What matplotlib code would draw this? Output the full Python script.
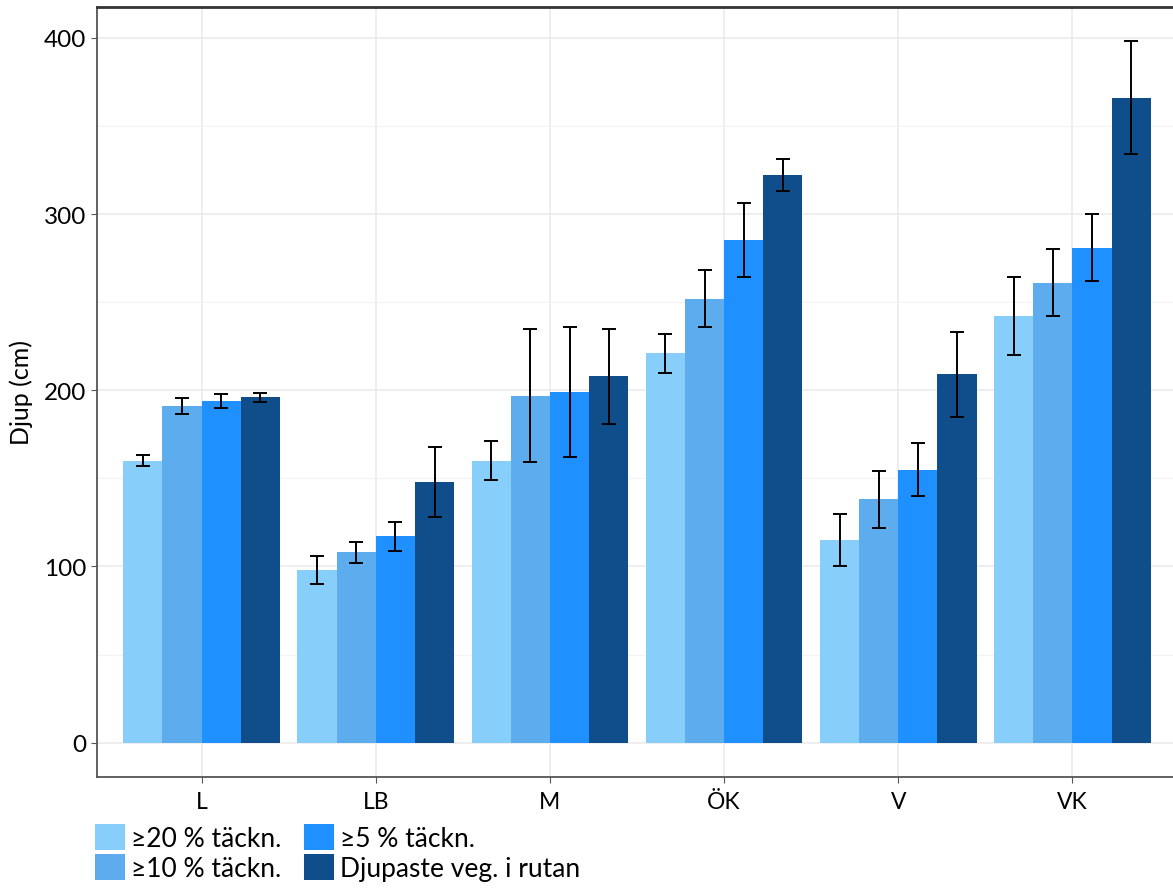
import numpy as np
import matplotlib.pyplot as plt
from matplotlib.ticker import MultipleLocator

plt.rcParams['font.family'] = ['Lato', 'DejaVu Sans']

lokaler = ["L", "LB", "M", "ÖK", "V", "VK"]
serier = ["≥20 % täckn.", "≥10 % täckn.", "≥5 % täckn.", "Djupaste veg. i rutan"]
farger = ["#87CEFA", "#5CACEE", "#1E90FF", "#104E8B"]

# medeldjup per lokal (rader = serier)
djup = [
    [160, 98, 160, 221, 115, 242],
    [191, 108, 197, 252, 138, 261],
    [194, 117, 199, 285, 155, 281],
    [196, 148, 208, 322, 209, 366],
]
# felstaplar (+/-)
fel = [
    [3, 8, 11, 11, 15, 22],
    [4.5, 6, 38, 16, 16, 19],
    [4, 8, 37, 21, 15, 19],
    [2.5, 20, 27, 9, 24, 32],
]

fig = plt.figure(figsize=(11.73, 8.95), dpi=100)
ax = fig.add_axes([97/1173, 117/895, 1080/1173, 770/895])

x = np.arange(1, len(lokaler) + 1)
w = 0.9 / len(serier)
for i in range(len(serier)):
    pos = x - 0.45 + w * (i + 0.5)
    ax.bar(pos, djup[i], width=w, color=farger[i], label=serier[i], zorder=2)
    ax.errorbar(pos, djup[i], yerr=fel[i], fmt='none', ecolor='black',
                elinewidth=1.4, capsize=5, capthick=1.4, zorder=3)

ax.set_xlim(0.4, 6.6)
ax.set_ylim(-19.5, 417.5)
ax.set_xticks(x)
ax.set_xticklabels(lokaler, fontsize=16.5)
ax.yaxis.set_major_locator(MultipleLocator(100))
ax.yaxis.set_minor_locator(MultipleLocator(50))
ax.tick_params(axis='y', labelsize=17.5, length=4, color='#555555')
ax.tick_params(axis='x', length=4, color='#555555', pad=6)
ax.tick_params(axis='y', which='minor', length=0)
ax.grid(which='major', color='#EBEBEB', lw=1.2, zorder=0)
ax.grid(which='minor', axis='y', color='#F2F2F2', lw=0.8, zorder=0)
ax.set_axisbelow(True)
ax.set_ylabel("Djup (cm)", fontsize=18, labelpad=8)

for s in ['left', 'bottom']:
    ax.spines[s].set_color('#555555')
    ax.spines[s].set_linewidth(1.3)
ax.spines['top'].set_color('#333333')
ax.spines['top'].set_linewidth(2)
ax.spines['right'].set_visible(False)

fig.legend(loc='upper left', bbox_to_anchor=(95/1173, 1 - 825/895), ncol=2,
           frameon=False, fontsize=19, handlelength=1.15, handleheight=1.15,
           labelspacing=0.12, handletextpad=0.22, columnspacing=0.85,
           borderpad=0, borderaxespad=0)

fig.savefig("out.png", dpi=100)
